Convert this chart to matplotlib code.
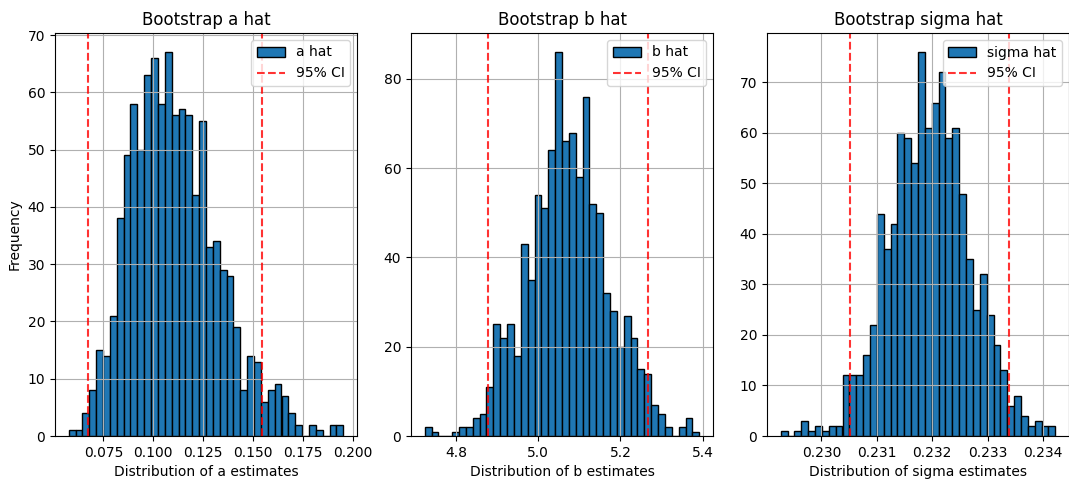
import matplotlib
matplotlib.use('Agg')
import matplotlib.pyplot as plt
import numpy as np

# counts per bin (40 bins)
a_counts = [1, 1, 4, 8, 15, 14, 21, 38, 49, 58, 50, 63, 66, 58, 67, 56, 57, 56, 42, 55,
            33, 34, 29, 28, 19, 8, 14, 13, 6, 8, 9, 7, 4, 2, 0, 2, 1, 0, 2, 2]
b_counts = [2, 1, 0, 0, 1, 2, 2, 4, 5, 11, 25, 22, 25, 18, 43, 35, 54, 51, 64, 86,
            66, 68, 58, 76, 52, 50, 32, 28, 20, 27, 22, 15, 14, 7, 5, 2, 0, 2, 4, 1]
s_counts = [1, 0, 1, 3, 1, 2, 1, 2, 2, 12, 12, 12, 16, 22, 44, 37, 42, 60, 59, 54,
            76, 61, 66, 72, 59, 61, 48, 35, 25, 32, 24, 18, 13, 6, 8, 4, 2, 3, 2, 2]

# histogram ranges (min, max of the estimates)
a_range = (0.0576, 0.1953)
b_range = (4.7235, 5.3920)
s_range = (0.229265, 0.234222)

# 95% confidence intervals
a_ci = (0.0675, 0.1544)
b_ci = (4.8776, 5.2662)
s_ci = (0.23051, 0.233382)

panels = [
    ('a hat', a_counts, a_range, a_ci, 'Bootstrap a hat', 'Distribution of a estimates'),
    ('b hat', b_counts, b_range, b_ci, 'Bootstrap b hat', 'Distribution of b estimates'),
    ('sigma hat', s_counts, s_range, s_ci, 'Bootstrap sigma hat', 'Distribution of sigma estimates'),
]

fig = plt.figure(figsize=(10.69, 4.83), dpi=100)
lefts = [55, 411, 767]
for i, (lab, counts, rng, ci, titulo, xlab) in enumerate(panels):
    ax = fig.add_axes([lefts[i] / 1069, 47 / 483, 302 / 1069, 403 / 483])
    counts = np.array(counts, dtype=float)
    edges = np.linspace(rng[0], rng[1], len(counts) + 1)
    centers = (edges[:-1] + edges[1:]) / 2
    ax.hist(centers, bins=edges, weights=counts, color='#1f77b4', edgecolor='black', label=lab)
    ax.axvline(ci[0], color='red', linestyle='--', alpha=0.8, label='95% CI')
    ax.axvline(ci[1], color='red', linestyle='--', alpha=0.8)
    ax.set_title(titulo, fontsize=12)
    ax.set_xlabel(xlab)
    if i == 0:
        ax.set_ylabel('Frequency')
    ax.legend(loc='upper right')
    ax.grid(True)

fig.savefig('out.png', dpi=100)
